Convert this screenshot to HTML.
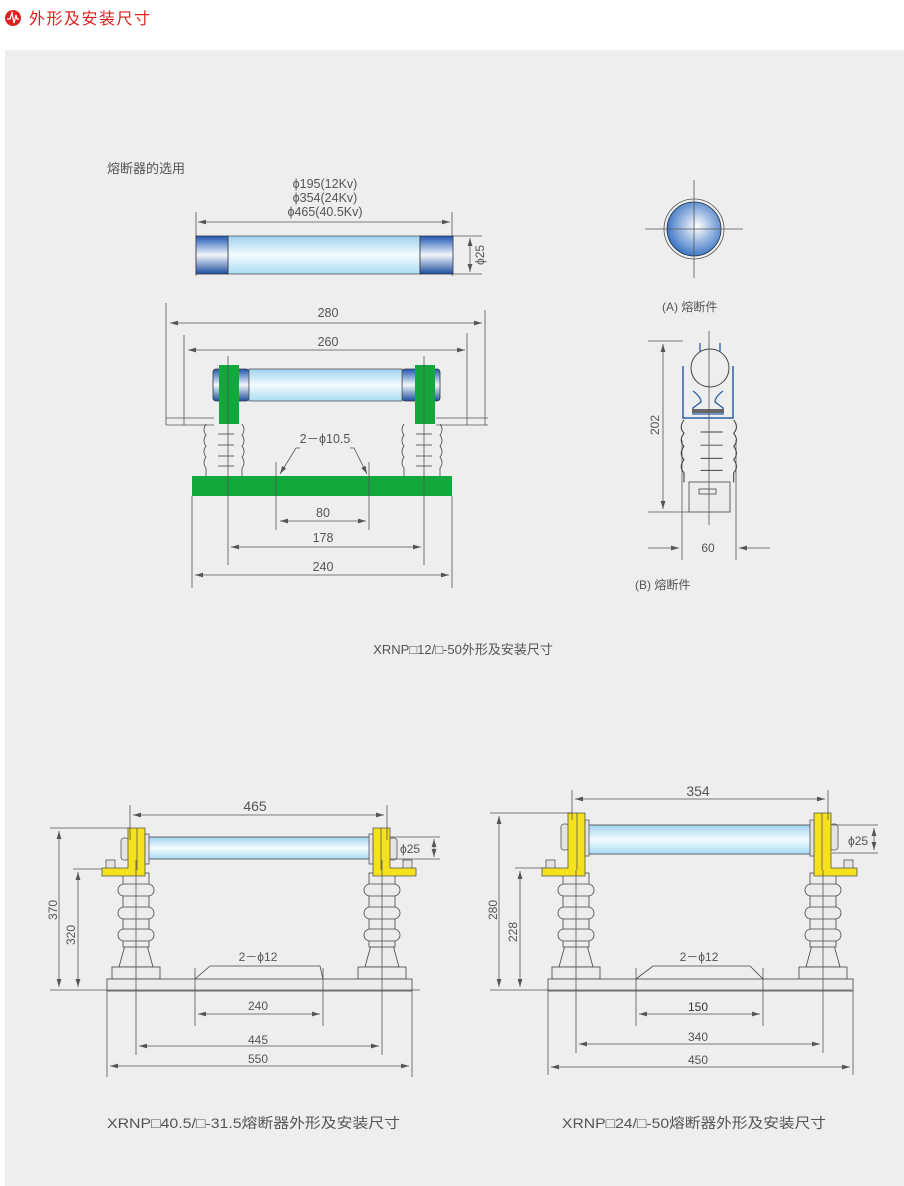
<!DOCTYPE html>
<html><head><meta charset="utf-8"><style>
html,body{margin:0;padding:0;background:#fff;}
svg{display:block;}
text{font-family:"Liberation Sans","Noto Sans CJK SC",sans-serif;fill:#555;}
</style></head><body>
<svg width="904" height="1186" viewBox="0 0 904 1186" xmlns="http://www.w3.org/2000/svg">
<defs>
<marker id="a" viewBox="0 0 10 6" refX="10" refY="3" markerWidth="8" markerHeight="5" orient="auto-start-reverse" markerUnits="userSpaceOnUse"><path d="M0,0 L10,3 L0,6 Z" fill="#555"/></marker>
<linearGradient id="glass" x1="0" y1="0" x2="0" y2="1"><stop offset="0" stop-color="#9fd3ee"/><stop offset="0.5" stop-color="#f4fbfe"/><stop offset="1" stop-color="#a8dcf3"/></linearGradient>
<linearGradient id="cap" x1="0" y1="0" x2="0" y2="1"><stop offset="0" stop-color="#1f56b0"/><stop offset="0.5" stop-color="#f2f6fb"/><stop offset="1" stop-color="#1c4d9e"/></linearGradient>
<radialGradient id="ball" cx="0.55" cy="0.45" r="0.6"><stop offset="0" stop-color="#ffffff"/><stop offset="1" stop-color="#2f6cc0"/></radialGradient>
<g id="ins" fill="#ececec" stroke="#444" stroke-width="0.8">
<polygon points="-11,945 11,945 17,967 -17,967"/>
<rect x="-13" y="873" width="26" height="74"/>
<rect x="-18" y="884" width="36" height="12" rx="6"/>
<rect x="-18" y="907" width="36" height="12" rx="6"/>
<rect x="-18" y="929" width="36" height="12" rx="6"/>
<rect x="-24" y="967" width="48" height="12"/>
</g>
<g id="brk" stroke="#555" stroke-width="0.8">
<rect x="-15" y="838" width="8" height="22" rx="3" fill="#e4e4e4"/>
<rect x="-30" y="860" width="9" height="9" fill="#e4e4e4"/>
<path d="M-8,828 H9 V876 H-34 V868 H-8 Z" fill="#f5e21b"/>
<line x1="1" y1="828" x2="1" y2="870"/>
<rect x="9" y="834" width="4" height="30" fill="#e4e4e4"/>
</g>
<g id="brk2" stroke="#555" stroke-width="0.8">
<rect x="-15" y="824" width="8" height="26" rx="3" fill="#e4e4e4"/>
<rect x="-30" y="860" width="9" height="9" fill="#e4e4e4"/>
<path d="M-8,813 H9 V876 H-34 V868 H-8 Z" fill="#f5e21b"/>
<line x1="1" y1="813" x2="1" y2="870"/>
<rect x="9" y="820" width="4" height="36" fill="#e4e4e4"/>
</g>
<g id="corr" fill="#ececec" stroke="#444" stroke-width="0.8">
<path d="M0,0 q-4,6 0,11 q-4,6 0,11 q-4,6 0,11 q-4,6 0,11 L0,52 M36,0 q4,6 0,11 q4,6 0,11 q4,6 0,11 q4,6 0,11 L36,52" fill="none"/>
<line x1="12" y1="10" x2="28" y2="10"/><line x1="12" y1="21" x2="28" y2="21"/><line x1="12" y1="32" x2="28" y2="32"/><line x1="12" y1="42" x2="28" y2="42"/>
</g>
</defs>
<rect width="904" height="1186" fill="#fff"/>
<rect x="5" y="50" width="899" height="1136" fill="#eeeeee"/>
<!-- header -->
<circle cx="13" cy="18" r="8" fill="#e0201f"/>
<path d="M7,19 H10 L12,13 L14,23 L16,15 L17,19 H19" stroke="#fff" stroke-width="1.3" fill="none"/>
<text x="29" y="24" font-size="16" style="fill:#e0201f" letter-spacing="1.5">外形及安装尺寸</text>

<g stroke="#555" stroke-width="0.8" fill="none">
<line x1="196" y1="212" x2="196" y2="276"/><line x1="452" y1="212" x2="452" y2="276"/>
<line x1="198" y1="222" x2="450" y2="222" marker-start="url(#a)" marker-end="url(#a)"/>
<line x1="453" y1="236" x2="482" y2="236"/><line x1="453" y1="274" x2="482" y2="274"/>
<line x1="470" y1="238" x2="470" y2="272" marker-start="url(#a)" marker-end="url(#a)"/>
</g>
<rect x="228" y="236" width="192" height="38" fill="url(#glass)" stroke="#555" stroke-width="0.8"/>
<rect x="196" y="236" width="32" height="38" fill="url(#cap)" stroke="#334" stroke-width="0.8"/>
<rect x="420" y="236" width="33" height="38" fill="url(#cap)" stroke="#334" stroke-width="0.8"/>
<text x="107" y="173" font-size="13">熔断器的选用</text>
<text x="325" y="188" font-size="12.5" text-anchor="middle">ϕ195(12Kv)</text>
<text x="325" y="202" font-size="12.5" text-anchor="middle">ϕ354(24Kv)</text>
<text x="325" y="216" font-size="12.5" text-anchor="middle">ϕ465(40.5Kv)</text>
<text font-size="12" transform="translate(484,255) rotate(-90)" text-anchor="middle">ϕ25</text>

<!-- middle-left -->
<g stroke="#555" stroke-width="0.8" fill="none">
<line x1="166" y1="303" x2="166" y2="425"/><line x1="485" y1="310" x2="485" y2="425"/>
<line x1="170" y1="323" x2="482" y2="323" marker-start="url(#a)" marker-end="url(#a)"/>
<line x1="184" y1="335" x2="184" y2="425"/><line x1="467" y1="333" x2="467" y2="425"/>
<line x1="188" y1="350" x2="465" y2="350" marker-start="url(#a)" marker-end="url(#a)"/>
<line x1="166" y1="418" x2="214" y2="418"/><line x1="166" y1="425" x2="214" y2="425"/>
<line x1="436" y1="418" x2="488" y2="418"/><line x1="436" y1="425" x2="488" y2="425"/>
</g>
<rect x="213" y="369" width="36" height="32" rx="3" fill="url(#cap)" stroke="#334" stroke-width="0.8"/>
<rect x="402" y="369" width="38" height="32" rx="3" fill="url(#cap)" stroke="#334" stroke-width="0.8"/>
<rect x="249" y="369" width="153" height="32" fill="url(#glass)" stroke="#555" stroke-width="0.8"/>
<rect x="219" y="365" width="20" height="59" fill="#12a83c"/>
<rect x="415" y="365" width="20" height="59" fill="#12a83c"/>
<use href="#corr" transform="translate(206,424)"/>
<use href="#corr" transform="translate(404,424)"/>
<rect x="192" y="476" width="260" height="20" fill="#12a83c"/>
<g stroke="#555" stroke-width="0.8" fill="none">
<line x1="228" y1="356" x2="228" y2="565"/><line x1="424" y1="356" x2="424" y2="565"/>
<line x1="276" y1="462" x2="276" y2="530"/><line x1="369" y1="462" x2="369" y2="530"/>
<polyline points="300,448 296,448 280,474" marker-end="url(#a)"/>
<polyline points="350,448 354,448 367,474" marker-end="url(#a)"/>
<line x1="280" y1="521" x2="366" y2="521" marker-start="url(#a)" marker-end="url(#a)"/>
<line x1="231" y1="547" x2="421" y2="547" marker-start="url(#a)" marker-end="url(#a)"/>
<line x1="192" y1="496" x2="192" y2="588"/><line x1="452" y1="496" x2="452" y2="588"/>
<line x1="195" y1="575" x2="449" y2="575" marker-start="url(#a)" marker-end="url(#a)"/>
</g>
<text x="325" y="443" font-size="12.5" text-anchor="middle">2－ϕ10.5</text>
<text x="323" y="517" font-size="12.5" text-anchor="middle">80</text>
<text x="323" y="542" font-size="12.5" text-anchor="middle">178</text>
<text x="323" y="571" font-size="12.5" text-anchor="middle">240</text>
<text x="328" y="317" font-size="12.5" text-anchor="middle">280</text>
<text x="328" y="346" font-size="12.5" text-anchor="middle">260</text>

<!-- (A) -->
<circle cx="694" cy="229" r="30" fill="none" stroke="#555" stroke-width="0.8"/>
<circle cx="694" cy="229" r="27" fill="url(#ball)" stroke="#234" stroke-width="0.8"/>
<g stroke="#555" stroke-width="0.8"><line x1="645" y1="229" x2="743" y2="229"/><line x1="694" y1="180" x2="694" y2="278"/></g>
<text x="662" y="311" font-size="12">(A) 熔断件</text>

<!-- (B) -->
<g stroke="#555" stroke-width="0.8" fill="none">
<line x1="648" y1="341" x2="683" y2="341"/><line x1="648" y1="512" x2="690" y2="512"/>
<line x1="663" y1="344" x2="663" y2="509" marker-start="url(#a)" marker-end="url(#a)"/>
<line x1="682" y1="440" x2="682" y2="560"/><line x1="736" y1="440" x2="736" y2="560"/>
<line x1="648" y1="548" x2="679" y2="548" marker-end="url(#a)"/>
<line x1="770" y1="548" x2="739" y2="548" marker-end="url(#a)"/>
</g>
<path d="M683,366 V418 H733 V366" fill="none" stroke="#2a5faa" stroke-width="1.5"/>
<path d="M700,343 V352 M720,343 V352 M693,391 q8,6 8,11 l-8,6 v6 h30 v-6 l-8,-6 q0,-5 8,-11" fill="none" stroke="#2a5faa" stroke-width="1.3"/>
<circle cx="710" cy="368" r="19" fill="#eee" stroke="#444" stroke-width="1"/>
<rect x="692" y="409" width="32" height="4" fill="#666"/>
<use href="#corr" transform="translate(684,420) scale(1.38,1.2)"/>
<rect x="689" y="482" width="41" height="30" fill="#ececec" stroke="#444" stroke-width="0.8"/>
<rect x="699" y="489" width="17" height="5" fill="none" stroke="#444" stroke-width="0.8"/>
<line x1="709" y1="331" x2="709" y2="525" stroke="#555" stroke-width="0.8"/>
<text font-size="12" transform="translate(659,425) rotate(-90)" text-anchor="middle">202</text>
<text x="708" y="552" font-size="12" text-anchor="middle">60</text>
<text x="635" y="589" font-size="12">(B) 熔断件</text>

<text x="463" y="654" font-size="13" text-anchor="middle">XRNP□12/□-50外形及安装尺寸</text>

<!-- bottom-left -->
<rect x="147" y="837" width="226" height="22" fill="url(#glass)" stroke="#444" stroke-width="0.8"/>
<use href="#ins" transform="translate(136,0)"/>
<use href="#ins" transform="translate(382,0)"/>
<rect x="107" y="979" width="305" height="12" fill="#ececec" stroke="#444" stroke-width="0.8"/>
<polyline points="195,979 210,966 320,966 323,979" fill="none" stroke="#444" stroke-width="0.8"/>
<use href="#brk" transform="translate(136,0)"/>
<use href="#brk" transform="translate(382,0) scale(-1,1)"/>
<g stroke="#555" stroke-width="0.8" fill="none">
<line x1="130" y1="805" x2="130" y2="840"/><line x1="387" y1="805" x2="387" y2="840"/>
<line x1="133" y1="815" x2="384" y2="815" marker-start="url(#a)" marker-end="url(#a)"/>
<line x1="136" y1="860" x2="136" y2="1055"/><line x1="382" y1="860" x2="382" y2="1055"/>
<line x1="390" y1="837" x2="440" y2="837"/><line x1="390" y1="859" x2="440" y2="859"/>
<line x1="434" y1="839" x2="434" y2="857" marker-start="url(#a)" marker-end="url(#a)"/>
<line x1="50" y1="828" x2="130" y2="828"/><line x1="50" y1="990" x2="420" y2="990"/>
<line x1="59" y1="831" x2="59" y2="987" marker-start="url(#a)" marker-end="url(#a)"/>
<line x1="73" y1="869" x2="102" y2="869"/>
<line x1="78" y1="872" x2="78" y2="987" marker-start="url(#a)" marker-end="url(#a)"/>
<line x1="195" y1="968" x2="195" y2="1026"/><line x1="323" y1="968" x2="323" y2="1026"/>
<line x1="198" y1="1014" x2="320" y2="1014" marker-start="url(#a)" marker-end="url(#a)"/>
<line x1="139" y1="1046" x2="379" y2="1046" marker-start="url(#a)" marker-end="url(#a)"/>
<line x1="107" y1="991" x2="107" y2="1077"/><line x1="412" y1="991" x2="412" y2="1077"/>
<line x1="110" y1="1066" x2="409" y2="1066" marker-start="url(#a)" marker-end="url(#a)"/>
</g>
<text x="255" y="811" font-size="14" text-anchor="middle">465</text>
<text x="400" y="853" font-size="12">ϕ25</text>
<text font-size="12" transform="translate(57,910) rotate(-90)" text-anchor="middle">370</text>
<text font-size="12" transform="translate(75,935) rotate(-90)" text-anchor="middle">320</text>
<text x="258" y="961" font-size="12" text-anchor="middle">2－ϕ12</text>
<text x="258" y="1010" font-size="12" text-anchor="middle">240</text>
<text x="258" y="1044" font-size="12" text-anchor="middle">445</text>
<text x="258" y="1063" font-size="12" text-anchor="middle">550</text>

<!-- bottom-right -->
<rect x="588" y="825" width="225" height="29" fill="url(#glass)" stroke="#444" stroke-width="0.8"/>
<use href="#ins" transform="translate(576,0)"/>
<use href="#ins" transform="translate(823,0)"/>
<rect x="548" y="979" width="305" height="12" fill="#ececec" stroke="#444" stroke-width="0.8"/>
<polyline points="636,979 653,966 750,966 763,979" fill="none" stroke="#444" stroke-width="0.8"/>
<use href="#brk2" transform="translate(576,0)"/>
<use href="#brk2" transform="translate(823,0) scale(-1,1)"/>
<g stroke="#555" stroke-width="0.8" fill="none">
<line x1="572" y1="790" x2="572" y2="820"/><line x1="828" y1="790" x2="828" y2="820"/>
<line x1="575" y1="799" x2="825" y2="799" marker-start="url(#a)" marker-end="url(#a)"/>
<line x1="576" y1="870" x2="576" y2="1053"/><line x1="823" y1="870" x2="823" y2="1053"/>
<line x1="832" y1="825" x2="878" y2="825"/><line x1="832" y1="853" x2="878" y2="853"/>
<line x1="874" y1="828" x2="874" y2="850" marker-start="url(#a)" marker-end="url(#a)"/>
<line x1="490" y1="813" x2="572" y2="813"/><line x1="490" y1="990" x2="852" y2="990"/>
<line x1="499" y1="816" x2="499" y2="987" marker-start="url(#a)" marker-end="url(#a)"/>
<line x1="515" y1="868" x2="545" y2="868"/>
<line x1="520" y1="871" x2="520" y2="987" marker-start="url(#a)" marker-end="url(#a)"/>
<line x1="636" y1="968" x2="636" y2="1026"/><line x1="763" y1="968" x2="763" y2="1026"/>
<line x1="639" y1="1014" x2="760" y2="1014" marker-start="url(#a)" marker-end="url(#a)"/>
<line x1="579" y1="1044" x2="820" y2="1044" marker-start="url(#a)" marker-end="url(#a)"/>
<line x1="548" y1="991" x2="548" y2="1075"/><line x1="853" y1="991" x2="853" y2="1075"/>
<line x1="551" y1="1067" x2="850" y2="1067" marker-start="url(#a)" marker-end="url(#a)"/>
</g>
<text x="698" y="796" font-size="14" text-anchor="middle">354</text>
<text x="848" y="845" font-size="12">ϕ25</text>
<text font-size="12" transform="translate(497,910) rotate(-90)" text-anchor="middle">280</text>
<text font-size="12" transform="translate(517,932) rotate(-90)" text-anchor="middle">228</text>
<text x="699" y="961" font-size="12" text-anchor="middle">2－ϕ12</text>
<text x="698" y="1011" font-size="12" text-anchor="middle" style="fill:#333">150</text>
<text x="698" y="1041" font-size="12" text-anchor="middle">340</text>
<text x="698" y="1064" font-size="12" text-anchor="middle">450</text>

<text x="107" y="1128" font-size="14" textLength="293" lengthAdjust="spacingAndGlyphs">XRNP□40.5/□-31.5熔断器外形及安装尺寸</text>
<text x="562" y="1128" font-size="14" textLength="264" lengthAdjust="spacingAndGlyphs">XRNP□24/□-50熔断器外形及安装尺寸</text>
</svg>
</body></html>
